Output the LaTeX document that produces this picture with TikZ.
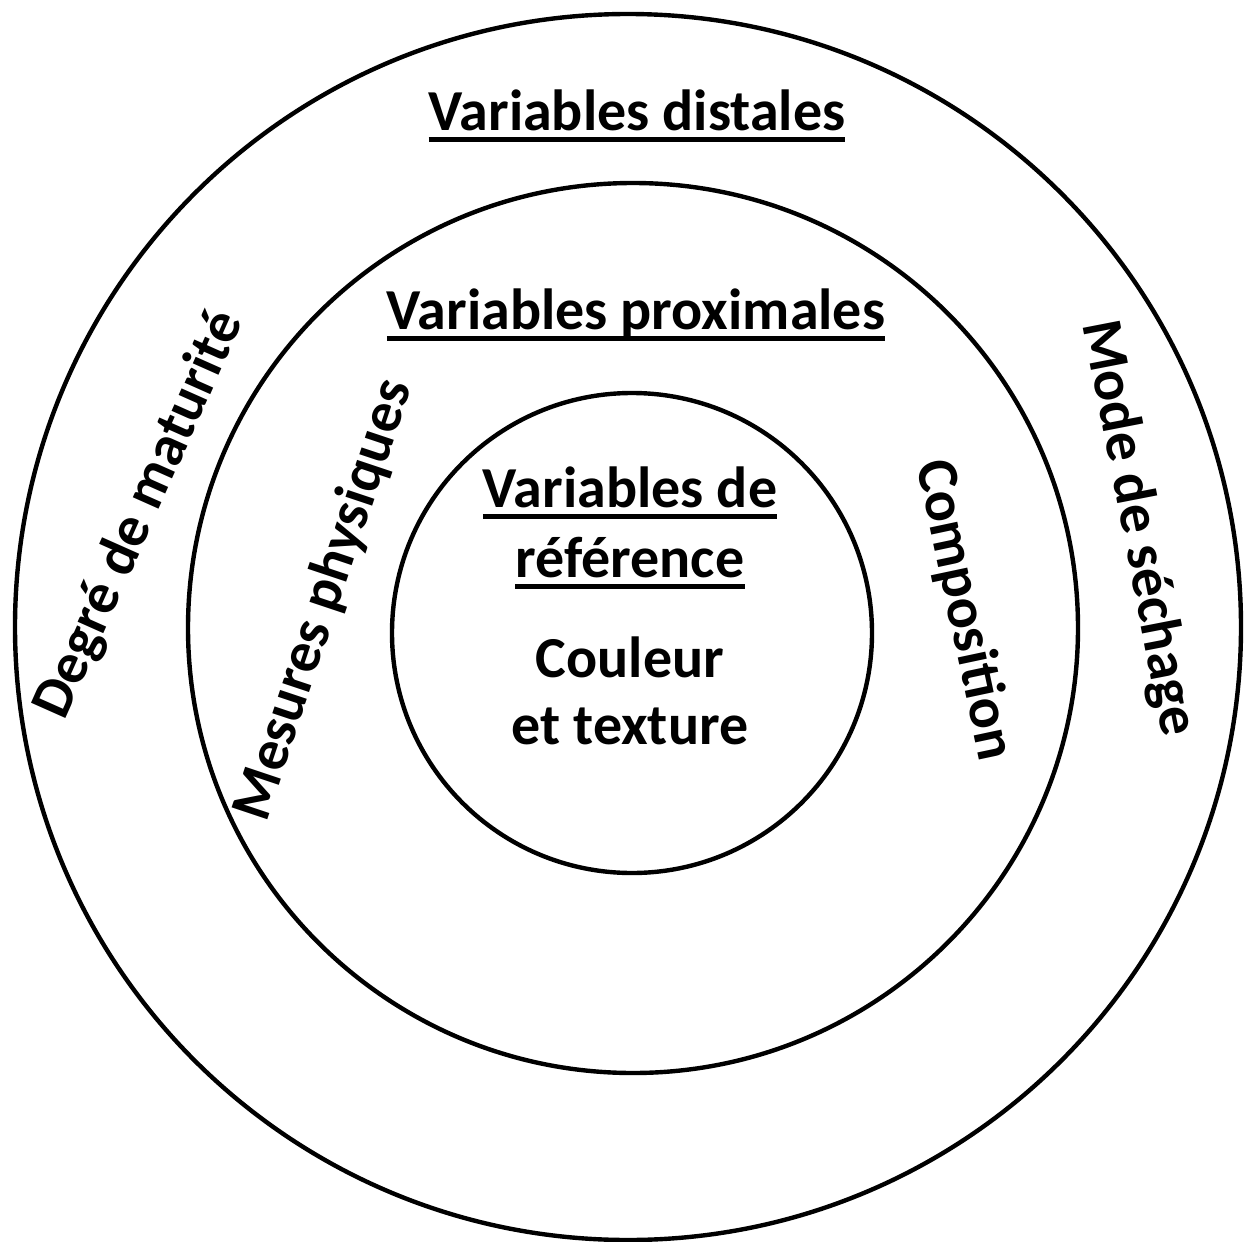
\documentclass[tikz,border=0pt]{standalone}
\usepackage{fontspec}
\setmainfont{Carlito}
\newcommand{\ulx}[1]{\setbox0\hbox{#1}\rlap{\rule[-6pt]{\wd0}{2.7pt}}\box0}
\begin{document}
\begin{tikzpicture}[x=0.5pt,y=-0.5pt,
  ring/.style={circle,draw,line width=2.2pt,inner sep=0pt},
  lbl/.style={font=\fontsize{29}{35}\bfseries\selectfont,inner sep=0pt}]
\useasboundingbox (0,0) rectangle (1248,1242);
\fill[white] (0,0) rectangle (1248,1242);
\node[ring,minimum size=613pt] (outer) at (628,627) {};
\node[ring,minimum size=445pt] (middle) at (633,628) {};
\node[ring,minimum size=240pt] (inner) at (632,633) {};
\node[lbl,anchor=base] (distal) at (637,130) {\ulx{Variables distales}};
\node[lbl,anchor=base] (prox) at (636,329) {\ulx{Variables proximales}};
\node[lbl,anchor=base] (ref1) at (630,507) {\ulx{Variables de}};
\node[lbl,anchor=base] (ref2) at (630,577) {\ulx{référence}};
\node[lbl,anchor=base] (coul) at (630,677) {Couleur};
\node[lbl,anchor=base] (tex) at (630,744) {et texture};
\node[lbl,rotate=66] (deg) at (140,515) {Degré de maturité};
\node[lbl,rotate=71.5] (mes) at (324,600) {Mesures physiques};
\node[lbl,rotate=-78] (comp) at (964,610) {Composition};
\node[lbl,rotate=-79] (mode) at (1138,528) {Mode de séchage};
\end{tikzpicture}
\end{document}
